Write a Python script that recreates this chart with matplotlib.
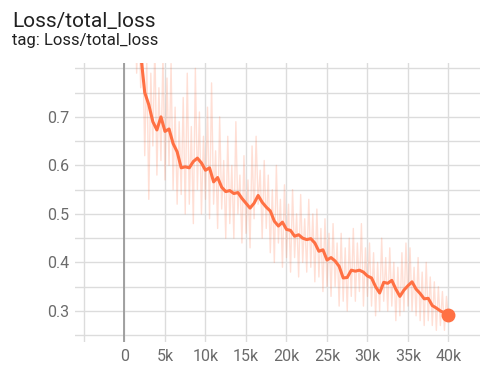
import numpy as np
import matplotlib
matplotlib.use("Agg")
from matplotlib import pyplot as plt
from matplotlib.ticker import FixedLocator, FuncFormatter

plt.rcParams['font.family'] = ['Roboto', 'DejaVu Sans']

# smoothed loss (every 500 steps)
smooth_steps = np.arange(500, 40001, 500)
smooth_loss = [
    1.00, 0.95, 0.88, 0.83, 0.75, 0.725, 0.69, 0.673, 0.70, 0.67,
    0.675, 0.645, 0.628, 0.595, 0.597, 0.595, 0.608, 0.615, 0.605, 0.59,
    0.595, 0.566, 0.575, 0.555, 0.546, 0.548, 0.542, 0.544, 0.532, 0.522,
    0.512, 0.522, 0.538, 0.524, 0.514, 0.506, 0.485, 0.475, 0.483, 0.468,
    0.466, 0.454, 0.457, 0.45, 0.447, 0.449, 0.44, 0.423, 0.426, 0.405,
    0.41, 0.403, 0.392, 0.368, 0.369, 0.384, 0.382, 0.384, 0.38, 0.372,
    0.368, 0.35, 0.337, 0.359, 0.357, 0.363, 0.345, 0.33, 0.343, 0.352,
    0.36, 0.345, 0.336, 0.325, 0.326, 0.311, 0.306, 0.30, 0.296, 0.292,
]

# raw loss (every 250 steps)
raw_steps = np.arange(250, 40001, 250)
raw_loss = [
    1.02, 0.93, 1.05, 0.88, 0.97, 0.79, 0.92, 0.76, 0.86, 0.62,
    0.82, 0.53, 0.79, 0.64, 0.85, 0.58, 0.76, 0.61, 0.83, 0.57,
    0.78, 0.60, 0.81, 0.55, 0.72, 0.52, 0.69, 0.54, 0.74, 0.50,
    0.79, 0.52, 0.68, 0.48, 0.80, 0.55, 0.71, 0.50, 0.66, 0.53,
    0.72, 0.49, 0.77, 0.52, 0.63, 0.47, 0.70, 0.51, 0.61, 0.45,
    0.66, 0.48, 0.60, 0.45, 0.69, 0.50, 0.58, 0.44, 0.62, 0.46,
    0.57, 0.43, 0.64, 0.49, 0.66, 0.52, 0.59, 0.45, 0.61, 0.47,
    0.58, 0.42, 0.55, 0.40, 0.60, 0.44, 0.53, 0.39, 0.56, 0.41,
    0.52, 0.38, 0.55, 0.41, 0.50, 0.37, 0.54, 0.40, 0.49, 0.38,
    0.53, 0.39, 0.50, 0.36, 0.51, 0.37, 0.47, 0.34, 0.49, 0.35,
    0.46, 0.33, 0.48, 0.35, 0.44, 0.31, 0.46, 0.32, 0.43, 0.30,
    0.45, 0.33, 0.47, 0.32, 0.44, 0.34, 0.48, 0.31, 0.43, 0.33,
    0.44, 0.31, 0.42, 0.29, 0.40, 0.30, 0.45, 0.32, 0.41, 0.30,
    0.43, 0.31, 0.40, 0.28, 0.39, 0.29, 0.42, 0.30, 0.44, 0.31,
    0.43, 0.30, 0.39, 0.29, 0.41, 0.28, 0.38, 0.27, 0.40, 0.28,
    0.37, 0.27, 0.36, 0.26, 0.35, 0.27, 0.34, 0.26, 0.33, 0.28,
]

x_ticks = [-5000, 0, 5000, 10000, 15000, 20000, 25000, 30000, 35000, 40000]
x_labels = ['', '0', '5k', '10k', '15k', '20k', '25k', '30k', '35k', '40k']
y_ticks = [0.3, 0.4, 0.5, 0.6, 0.7]
y_minor = [0.25, 0.35, 0.45, 0.55, 0.65, 0.75, 0.8]

color = '#ff7043'

fig = plt.figure(figsize=(4.8, 3.65), dpi=100)
ax = fig.add_axes([75 / 480, 23 / 365, 405 / 480, 279 / 365])

ax.plot(raw_steps, raw_loss, color=color, alpha=0.22, lw=1.0)
ax.plot(smooth_steps, smooth_loss, color=color, lw=2.2, solid_joinstyle='round')
ax.plot(smooth_steps[-1], smooth_loss[-1], 'o', color=color, markersize=9)

ax.set_xlim(-6110, 43890)
ax.set_ylim(0.236, 0.811)

ax.xaxis.set_major_locator(FixedLocator(x_ticks))
ax.xaxis.set_major_formatter(FuncFormatter(lambda v, p: x_labels[x_ticks.index(int(round(v)))] if int(round(v)) in x_ticks else ''))
ax.yaxis.set_major_locator(FixedLocator(y_ticks))
ax.yaxis.set_minor_locator(FixedLocator(y_minor))
ax.yaxis.set_major_formatter(FuncFormatter(lambda v, p: f'{v:.1f}'))

ax.grid(True, which='both', axis='y', color='#dcdcdc', lw=1.0)
ax.grid(True, which='major', axis='x', color='#dcdcdc', lw=1.0)
ax.axvline(0, color='#9a9a9a', lw=1.3, zorder=1)
ax.set_axisbelow(True)

for s in ax.spines.values():
    s.set_visible(False)
ax.tick_params(axis='both', which='both', length=0, colors='#6b6b6b', labelsize=11.5)
ax.tick_params(axis='x', pad=5)
ax.tick_params(axis='y', pad=4)

fig.text(12 / 480, 1 - 27 / 365, 'Loss/total_loss', fontsize=15, color='#212121', va='baseline')
fig.text(12 / 480, 1 - 45 / 365, 'tag: Loss/total_loss', fontsize=12, color='#212121', va='baseline')

fig.savefig('out.png', dpi=100)
